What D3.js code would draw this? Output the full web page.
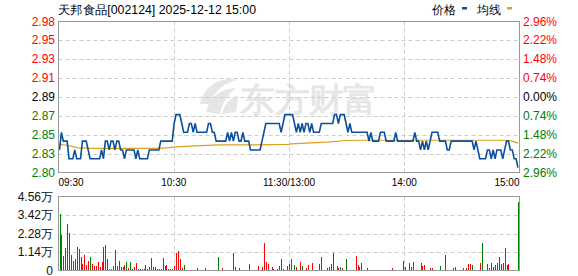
<!DOCTYPE html>
<html>
<head>
<meta charset="utf-8">
<script src="https://cdn.jsdelivr.net/npm/d3@7"></script>
<style>
body { margin: 0; background: #fff; }
svg text { font-family: "Liberation Sans", Arial, sans-serif; }
</style>
</head>
<body>
<div id="chart"></div>
<script>
var title = "天邦食品[002124] 2025-12-12 15:00";
var prevClose = 2.89;
var maxPct = 2.96;
var priceTicks = ["2.98", "2.95", "2.93", "2.91", "2.89", "2.87", "2.85", "2.83", "2.80"];
var pctTicks = ["2.96%", "2.22%", "1.48%", "0.74%", "0.00%", "0.74%", "1.48%", "2.22%", "2.96%"];
var volMax = 4.56;
var volTicks = ["4.56万", "3.42万", "2.28万", "1.14万", "0"];
var timeTicks = ["09:30", "10:30", "11:30/13:00", "14:00", "15:00"];
var legendNames = ["价格", "均线"];

// one price per minute, 09:30 .. 11:30, 13:01 .. 15:00
var prices = [
  2.83,2.85,2.84,2.84,2.84,2.82,2.82,2.82,2.83,2.82,
  2.82,2.82,2.84,2.84,2.84,2.83,2.82,2.82,2.82,2.82,
  2.82,2.82,2.83,2.82,2.84,2.84,2.83,2.84,2.84,2.83,
  2.84,2.84,2.83,2.83,2.82,2.83,2.83,2.83,2.83,2.83,
  2.82,2.83,2.82,2.82,2.82,2.82,2.82,2.83,2.83,2.83,
  2.83,2.83,2.83,2.84,2.84,2.84,2.84,2.84,2.84,2.84,
  2.86,2.87,2.87,2.87,2.86,2.85,2.85,2.85,2.86,2.86,
  2.85,2.86,2.85,2.85,2.85,2.85,2.85,2.85,2.86,2.86,
  2.85,2.85,2.84,2.84,2.84,2.84,2.84,2.84,2.85,2.84,
  2.85,2.84,2.85,2.85,2.84,2.84,2.85,2.84,2.84,2.84,
  2.83,2.83,2.83,2.83,2.83,2.83,2.84,2.85,2.86,2.86,
  2.86,2.86,2.86,2.86,2.86,2.86,2.85,2.86,2.87,2.87,
  2.87,
  2.87,2.87,2.86,2.85,2.86,2.85,2.86,2.85,2.86,2.86,
  2.85,2.86,2.85,2.85,2.85,2.85,2.86,2.86,2.86,2.86,
  2.86,2.86,2.86,2.87,2.87,2.86,2.87,2.87,2.87,2.86,
  2.85,2.86,2.85,2.85,2.85,2.85,2.85,2.85,2.85,2.85,
  2.85,2.84,2.85,2.84,2.84,2.84,2.84,2.85,2.85,2.85,
  2.84,2.84,2.84,2.84,2.84,2.85,2.84,2.84,2.84,2.84,
  2.84,2.84,2.84,2.84,2.84,2.85,2.84,2.84,2.83,2.84,
  2.83,2.84,2.83,2.84,2.85,2.85,2.85,2.85,2.84,2.84,
  2.84,2.84,2.83,2.83,2.84,2.84,2.84,2.84,2.84,2.84,
  2.84,2.84,2.84,2.84,2.84,2.84,2.83,2.84,2.83,2.82,
  2.82,2.82,2.82,2.83,2.83,2.82,2.83,2.82,2.83,2.83,
  2.83,2.82,2.83,2.84,2.84,2.83,2.83,2.82,2.82,2.81
];

// average line, read at the minutes where it bends
var avgMinutes = [0, 4, 9, 16, 52, 56, 61, 71, 83, 100, 120, 121, 129, 140, 150, 160, 233, 236, 240];
var avgPrices = [2.8364, 2.8353, 2.8327, 2.8317, 2.8317, 2.8324, 2.8335, 2.8346, 2.8357, 2.8357, 2.8364,
                 2.8370, 2.8378, 2.8389, 2.8407, 2.8410, 2.8410, 2.8405, 2.8378];

// volume per minute, in 万
var volumes = [
  3.49,2.19,0.89,1.36,2.87,2.29,0.95,0.56,0.70,1.45,
  1.30,0.83,0.43,0.95,0.33,0.58,0.83,0.43,0.25,0.25,
  0.50,0.20,0.50,1.43,1.55,0.70,0.10,0.12,0.27,1.26,
  0.27,0.56,0.20,0.20,0.33,0.50,0.17,0.54,0.12,0.20,
  0.45,0.12,0.10,0.10,0.12,0.31,0.08,0.22,0.76,0.20,
  0.20,0.08,0.08,0.12,0.76,0.29,0.31,0.12,0.08,0.08,
  0.27,1.07,1.20,0.70,0.14,0.33,0.06,0.06,0.06,0.05,
  0.06,0.05,0.15,0.06,0.05,0.06,0.15,0.06,0.05,0.06,
  0.05,0.06,0.05,0.83,0.06,0.15,0.06,0.05,0.06,0.05,
  0.06,1.07,0.20,0.06,0.15,0.06,0.05,0.06,0.05,0.43,
  0.06,0.05,0.06,0.05,0.27,0.06,0.20,1.67,0.50,0.43,
  0.06,0.20,0.12,0.06,0.12,0.27,0.70,0.08,0.06,0.27,
  0.43,
  0.70,0.06,0.33,0.20,0.06,0.52,0.27,0.06,0.15,0.33,
  0.06,0.45,0.06,0.06,0.06,0.39,0.83,0.06,0.06,0.15,
  0.20,0.39,1.07,0.06,0.27,0.15,0.20,0.15,0.06,0.70,
  0.06,0.06,0.06,0.06,0.89,0.33,0.20,0.45,0.06,0.06,
  0.15,0.06,0.06,0.06,0.06,0.06,0.05,0.06,0.06,0.05,
  0.06,0.06,0.06,0.15,0.06,0.06,0.05,0.06,0.06,0.58,
  0.20,0.06,0.45,0.20,0.52,0.06,0.06,0.06,0.45,0.27,
  0.33,0.06,0.06,0.15,0.15,0.06,0.06,0.06,0.27,0.06,
  0.06,0.95,0.06,0.06,0.06,0.15,0.20,0.06,0.06,0.06,
  0.15,0.06,0.15,0.39,0.39,0.33,0.06,0.06,0.06,0.45,
  1.69,0.06,0.06,0.39,0.15,0.45,0.20,0.33,0.45,0.83,
  0.39,0.45,1.38,0.33,0.39,0.06,0,0,0,4.25
];
// 1 = up minute (red), -1 = down minute (green)
var volDir = [
  -1,-1,1,1,-1,1,1,1,-1,1,
  1,-1,1,1,1,1,-1,1,1,1,
  1,1,1,-1,1,1,-1,1,1,1,
  1,-1,1,1,1,-1,1,-1,1,1,
  1,1,-1,-1,1,1,-1,1,1,1,
  1,1,1,1,1,1,1,1,1,1,
  1,1,1,1,1,-1,1,-1,1,1,
  -1,1,-1,1,1,1,1,1,-1,1,
  1,-1,1,-1,1,1,1,-1,1,1,
  1,1,1,1,-1,1,1,-1,1,1,
  1,1,-1,1,1,1,1,1,1,1,
  1,1,1,1,1,1,-1,1,1,1,
  1,
  1,1,-1,1,1,1,-1,1,1,1,
  1,1,1,-1,1,1,1,1,1,1,
  1,1,-1,1,1,1,-1,1,1,-1,
  1,-1,1,1,1,1,1,1,1,1,
  1,-1,1,1,1,1,1,1,1,1,
  1,1,-1,1,1,-1,1,1,1,1,
  1,1,1,1,1,1,1,1,-1,1,
  1,1,-1,1,1,1,1,1,-1,1,
  1,-1,1,1,1,1,1,1,1,1,
  1,1,1,1,1,-1,-1,1,1,1,
  -1,1,1,1,1,1,-1,1,1,1,
  -1,1,1,1,1,-1,1,1,1,-1
];

var width = 578, height = 276;
var left = 58.5, right = 519.5;
var pTop = 21.5, pBottom = 172.5;
var vTop = 196.5, vBottom = 270.5;
var red = "#ff0000", green = "#008000";

var svg = d3.select("#chart").append("svg")
    .attr("width", width)
    .attr("height", height);

var x = d3.scaleLinear()
    .domain([0, prices.length - 1])
    .range([59.5, 518]);

var y = d3.scaleLinear()
    .domain([prevClose * (1 - maxPct / 100), prevClose * (1 + maxPct / 100)])
    .range([pBottom, pTop]);

var vy = d3.scaleLinear()
    .domain([0, volMax])
    .range([vBottom, vTop]);

var gridX = d3.scaleLinear().domain([0, 4]).range([left, right]);

// watermark
var wm = svg.append("g").attr("fill", "#e6e6e6");
wm.append("path")
    .attr("d", "M200,104 C204,86 220,76 238,80 C226,82 214,90 210,104 Z");
wm.append("path")
    .attr("d", "M206,112 C210,96 222,88 236,88 C228,94 222,104 220,114 Z");
wm.append("path")
    .attr("d", "M222,114 C224,104 230,98 238,96 L236,112 Z");
wm.append("text")
    .attr("x", 240)
    .attr("y", 111)
    .attr("font-size", "33px")
    .attr("font-weight", "bold")
    .attr("font-family", "Noto Sans CJK SC")
    .attr("textLength", 138)
    .attr("lengthAdjust", "spacingAndGlyphs")
    .text("东方财富");

// grids
var priceLevels = priceTicks.map(function(d, i) { return prevClose * (1 + maxPct / 100 * (4 - i) / 4); });
var volLevels = volTicks.map(function(d, i) { return volMax * (4 - i) / 4; });

svg.selectAll(".hgrid")
    .data(priceLevels.slice(1, -1))
    .enter().append("line")
    .attr("x1", left).attr("x2", right)
    .attr("y1", function(d) { return Math.round(y(d)) + 0.5; })
    .attr("y2", function(d) { return Math.round(y(d)) + 0.5; })
    .attr("stroke", "#cccccc")
    .attr("stroke-dasharray", "4,3");

svg.selectAll(".vhgrid")
    .data(volLevels.slice(1, -1))
    .enter().append("line")
    .attr("x1", left).attr("x2", right)
    .attr("y1", function(d) { return Math.round(vy(d)) + 0.5; })
    .attr("y2", function(d) { return Math.round(vy(d)) + 0.5; })
    .attr("stroke", "#cccccc")
    .attr("stroke-dasharray", "4,3");

[1, 2, 3].forEach(function(k) {
    var gx = Math.round(gridX(k)) + 0.5;
    [[pTop, pBottom], [vTop, vBottom]].forEach(function(r) {
        svg.append("line")
            .attr("x1", gx).attr("x2", gx)
            .attr("y1", r[0]).attr("y2", r[1])
            .attr("stroke", "#cccccc")
            .attr("stroke-dasharray", "4,3");
    });
});

// volume bars
svg.selectAll(".bar")
    .data(volumes)
    .enter().append("rect")
    .attr("class", "bar")
    .attr("x", function(d, i) { return Math.round(x(i)); })
    .attr("width", 1)
    .attr("y", function(d) { return vy(d); })
    .attr("height", function(d) { return vBottom - vy(d); })
    .attr("fill", function(d, i) { return volDir[i] > 0 ? red : green; })
    .attr("shape-rendering", "crispEdges");

// average line
var avgLine = d3.line()
    .x(function(d, i) { return x(avgMinutes[i]); })
    .y(function(d) { return y(d); });
svg.append("path")
    .datum(avgPrices)
    .attr("d", avgLine)
    .attr("fill", "none")
    .attr("stroke", "#dea11f")
    .attr("stroke-width", 1.2);

// price line
var priceLine = d3.line()
    .x(function(d, i) { return x(i); })
    .y(function(d) { return y(d); });
svg.append("path")
    .datum(prices)
    .attr("d", priceLine)
    .attr("fill", "none")
    .attr("stroke", "#0c4f9e")
    .attr("stroke-width", 1.6);

// frames
[[pTop, pBottom], [vTop, vBottom]].forEach(function(r) {
    svg.append("rect")
        .attr("x", left).attr("y", r[0])
        .attr("width", right - left).attr("height", r[1] - r[0])
        .attr("fill", "none")
        .attr("stroke", "#999999");
});

// labels
function levelColor(i) { return i < 4 ? red : (i > 4 ? green : "#000"); }

svg.selectAll(".plabel")
    .data(priceTicks)
    .enter().append("text")
    .attr("x", 55)
    .attr("y", function(d, i) { return y(priceLevels[i]) + 4; })
    .attr("text-anchor", "end")
    .attr("font-size", "12px")
    .attr("fill", function(d, i) { return levelColor(i); })
    .text(function(d) { return d; });

svg.selectAll(".pctlabel")
    .data(pctTicks)
    .enter().append("text")
    .attr("x", 523)
    .attr("y", function(d, i) { return y(priceLevels[i]) + 4; })
    .attr("font-size", "12px")
    .attr("fill", function(d, i) { return levelColor(i); })
    .text(function(d) { return d; });

svg.selectAll(".vlabel")
    .data(volTicks)
    .enter().append("text")
    .attr("x", 53)
    .attr("y", function(d, i) { return vy(volLevels[i]) + 4; })
    .attr("text-anchor", "end")
    .attr("font-size", "12px")
    .attr("font-family", "Liberation Sans, Noto Sans CJK SC")
    .attr("fill", "#111")
    .text(function(d) { return d; });

svg.selectAll(".tlabel")
    .data(timeTicks)
    .enter().append("text")
    .attr("x", function(d, i) { return gridX(i); })
    .attr("y", 186)
    .attr("text-anchor", function(d, i) { return i == 0 ? "start" : (i == 4 ? "end" : "middle"); })
    .attr("font-size", "10px")
    .attr("font-family", "DejaVu Sans Mono")
    .attr("fill", "#000")
    .text(function(d) { return d; });

// title and legend
svg.append("text")
    .attr("x", 58)
    .attr("y", 14)
    .attr("font-size", "12px")
    .attr("font-family", "Noto Sans CJK SC")
    .attr("textLength", 198)
    .attr("lengthAdjust", "spacingAndGlyphs")
    .attr("fill", "#000")
    .text(title);

var legendX = [432, 477];
var legendColors = ["#0c4f9e", "#dea11f"];
legendNames.forEach(function(name, i) {
    svg.append("text")
        .attr("x", legendX[i])
        .attr("y", 14)
        .attr("font-size", "12px")
        .attr("font-family", "Noto Sans CJK SC")
        .attr("fill", "#000")
        .text(name);
    svg.append("rect")
        .attr("x", legendX[i] + 30)
        .attr("y", 7)
        .attr("width", 5)
        .attr("height", 2.5)
        .attr("fill", legendColors[i]);
});
</script>
</body>
</html>
